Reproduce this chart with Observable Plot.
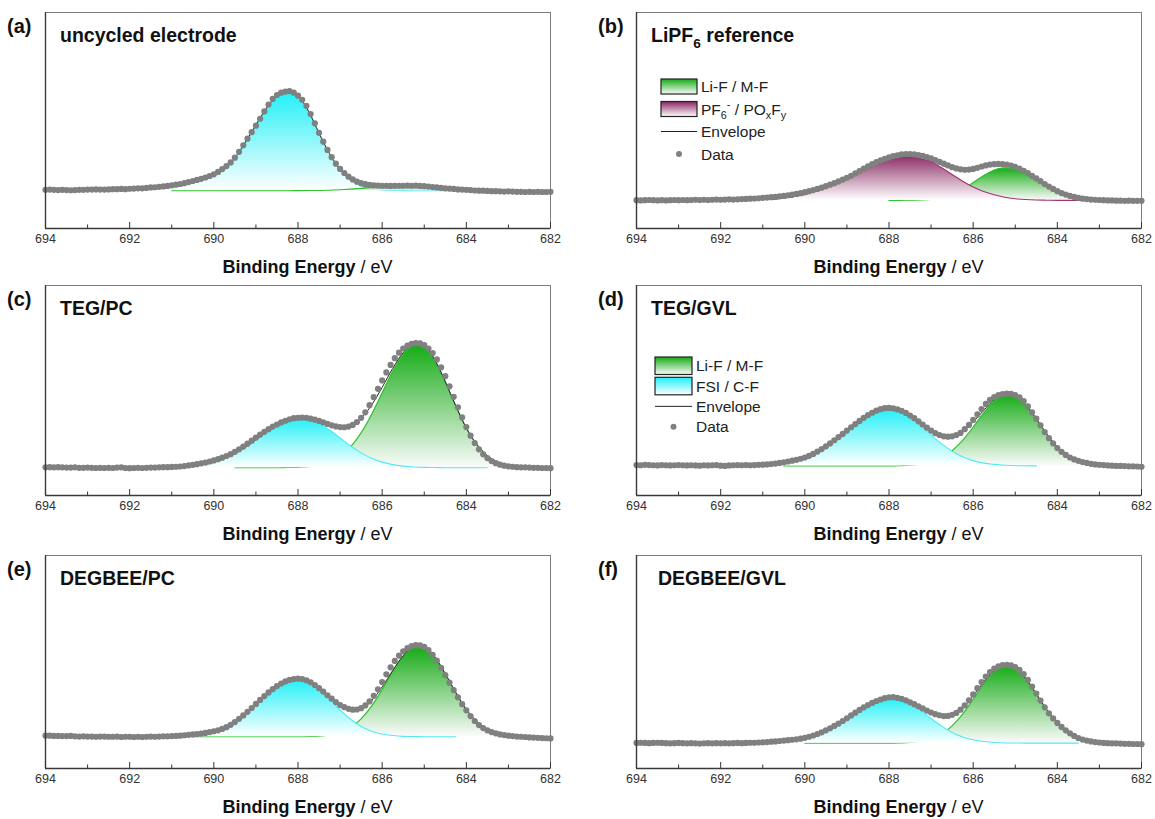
<!DOCTYPE html>
<html><head><meta charset="utf-8">
<script src="https://cdn.jsdelivr.net/npm/d3@7"></script>
<script src="https://cdn.jsdelivr.net/npm/@observablehq/plot@0.6"></script>
<style>
body{margin:0;background:#fff;}
#chart{position:relative;width:1155px;height:819px;overflow:hidden;font-family:"Liberation Sans",Arial,sans-serif;}
#chart svg{position:absolute;}
</style></head><body><div id="chart"></div>
<script>
// ---------- data ----------
// measurement grid: 694.0 -> 682.0 eV, 0.1 eV step
const energy = d3.range(121).map(i => Math.round((694 - i * 0.1) * 10) / 10);
// grid of the fitted components (eV)
const compEnergy = [691,690.75,690.5,690.25,690,689.75,689.5,689.25,689,688.75,688.5,688.25,688,687.75,687.5,687.25,687,686.75,686.5,686.25,686,685.75,685.5,685.25,685,684.75,684.5,684.25,684,683.75,683.5,683.25,683];

const tickValues = [694,692,690,688,686,684,682];
const minorTickValues = [693,691,689,687,685,683];

const panelLabels = ["(a)","(b)","(c)","(d)","(e)","(f)"];
const panelTitles = ["uncycled electrode","LiPF_{6} reference","TEG/PC","TEG/GVL","DEGBEE/PC","DEGBEE/GVL"];
const legendLabelsB = ["Li-F / M-F","PF_{6}^{-} / PO_{x}F_{y}","Envelope","Data"];
const legendLabelsD = ["Li-F / M-F","FSI / C-F","Envelope","Data"];

// background (baseline) intensity per panel (a.u.)
const baselines = [17.5, 13.0, 13.2, 14.1, 14.9, 11.9];

// measured intensity (a.u.)
const dataA = [17.9,18.0,17.9,17.8,17.9,17.8,17.7,17.8,17.9,17.9,
18.0,18.0,18.1,18.0,18.0,18.1,18.2,18.2,18.3,18.2,
18.4,18.5,18.6,18.6,18.8,19.0,19.1,19.3,19.5,19.7,
20.0,20.3,20.6,21.0,21.5,22.0,22.5,23.0,23.6,24.3,
25.1,26.2,27.5,28.9,30.6,32.8,35.5,38.5,41.6,44.6,
47.6,50.8,54.2,57.4,60.0,61.8,62.9,63.4,63.6,62.9,
61.5,59.6,56.8,53.0,48.7,44.3,40.2,36.4,33.0,30.0,
27.6,25.7,24.0,22.7,21.7,21.0,20.5,20.2,20.0,19.9,
19.8,19.8,19.7,19.8,19.8,19.8,19.9,19.8,19.9,19.7,
19.6,19.4,19.2,19.0,18.8,18.6,18.5,18.3,18.1,18.0,
17.9,17.8,17.6,17.5,17.5,17.4,17.3,17.3,17.2,17.1,
17.2,17.1,17.0,17.0,16.9,17.0,16.9,17.0,16.9,16.9,
17.0];
const dataB = [13.1,13.0,13.1,13.2,13.1,13.0,13.1,13.0,13.1,13.2,
13.1,13.2,13.1,13.2,13.3,13.2,13.3,13.2,13.3,13.4,
13.3,13.4,13.5,13.4,13.5,13.6,13.7,13.8,13.9,14.0,
14.2,14.3,14.5,14.6,14.9,15.1,15.4,15.7,16.0,16.4,
16.8,17.3,17.8,18.3,18.9,19.6,20.3,21.0,21.8,22.6,
23.5,24.4,25.5,26.6,27.7,28.8,29.8,30.7,31.6,32.3,
32.9,33.5,33.9,34.3,34.5,34.5,34.3,34.0,33.6,33.1,
32.5,31.7,30.9,30.0,29.2,28.4,27.8,27.4,27.2,27.3,
27.6,28.1,28.7,29.2,29.6,29.8,29.9,29.8,29.6,29.1,
28.5,27.7,26.7,25.6,24.4,23.2,21.9,20.6,19.4,18.3,
17.3,16.4,15.7,15.1,14.6,14.2,13.8,13.6,13.4,13.3,
13.2,13.1,13.0,13.0,12.9,12.9,12.8,12.9,12.8,12.8,
12.8];
const dataC = [13.4,13.5,13.4,13.5,13.4,13.3,13.3,13.4,13.2,13.2,
13.3,13.2,13.1,13.2,13.1,13.2,13.1,13.3,13.4,13.1,
13.0,13.1,13.2,13.1,13.2,13.3,13.3,13.4,13.5,13.5,
13.6,13.7,13.8,14.0,14.3,14.6,14.9,15.3,15.7,16.2,
16.7,17.3,18.0,18.8,19.7,20.8,22.0,23.3,24.7,26.1,
27.6,29.0,30.3,31.6,32.8,33.8,34.8,35.6,36.3,36.8,
37.0,37.1,37.0,36.6,36.1,35.5,34.8,34.1,33.4,32.9,
32.6,32.5,32.8,33.6,35.0,37.0,39.6,43.0,46.8,50.8,
54.8,58.6,62.2,65.4,68.0,70.0,71.4,72.2,72.6,72.4,
71.6,70.0,67.8,64.8,61.0,56.8,52.0,47.0,42.0,37.2,
32.6,28.5,25.0,22.0,19.6,17.8,16.4,15.4,14.7,14.2,
13.9,13.7,13.5,13.4,13.4,13.3,13.2,13.2,13.1,13.1,
13.0];
const dataD = [14.5,14.4,14.6,14.5,14.4,14.3,14.5,14.4,14.3,14.4,
14.5,14.4,14.3,14.4,14.3,14.2,14.4,14.3,14.4,14.5,
14.2,14.1,14.3,14.4,14.5,14.4,14.5,14.4,14.5,14.6,
14.7,14.8,15.0,15.2,15.5,15.8,16.2,16.6,17.0,17.5,
18.1,18.9,19.8,20.9,22.1,23.4,24.8,26.3,27.8,29.3,
30.9,32.5,34.0,35.5,37.0,38.3,39.4,40.4,41.1,41.6,
41.7,41.5,41.0,40.3,39.3,38.1,36.8,35.3,33.8,32.3,
30.9,29.7,28.8,28.2,28.0,28.2,28.8,29.8,31.6,33.6,
36.0,38.6,41.2,43.6,45.5,46.9,47.8,48.3,48.5,48.4,
47.8,46.7,44.9,42.4,39.6,36.6,33.4,30.2,27.3,24.8,
22.6,20.8,19.3,18.1,17.2,16.5,15.9,15.5,15.1,14.8,
14.6,14.5,14.3,14.2,14.1,14.1,14.0,13.9,13.9,13.8,
13.7];
const dataE = [15.4,15.4,15.3,15.3,15.2,15.2,15.3,15.1,15.0,15.1,
15.0,15.0,14.9,15.0,15.0,14.9,14.9,15.0,14.8,14.9,
14.9,14.8,14.9,14.8,14.9,15.0,14.9,15.0,15.1,15.1,
15.2,15.3,15.4,15.6,15.8,16.0,16.2,16.4,16.7,17.1,
17.5,17.9,18.6,19.4,20.5,21.8,23.3,24.9,26.6,28.4,
30.3,32.2,34.0,35.7,37.3,38.7,39.9,40.9,41.6,42.0,
42.2,42.0,41.4,40.5,39.2,37.7,36.1,34.4,32.8,31.2,
29.8,28.8,28.0,27.6,27.7,28.3,29.6,31.5,34.1,37.2,
40.6,44.2,47.5,50.5,53.0,55.0,56.5,57.5,57.9,57.8,
57.1,55.6,53.4,50.6,47.3,43.8,40.3,36.8,33.4,30.2,
27.3,24.6,22.3,20.4,19.0,17.9,17.1,16.5,16.0,15.7,
15.4,15.2,15.0,14.9,14.8,14.6,14.5,14.4,14.3,14.2,
14.1];
const dataF = [12.0,12.1,12.0,11.9,12.0,12.1,12.0,11.9,11.8,11.9,
12.0,11.9,11.8,11.9,11.8,11.7,11.8,11.9,11.8,11.9,
11.8,11.9,11.8,11.9,12.0,11.9,12.0,12.1,12.1,12.2,
12.3,12.4,12.6,12.7,12.9,13.1,13.3,13.5,13.7,14.0,
14.4,14.9,15.5,16.2,17.0,17.9,18.9,20.0,21.1,22.3,
23.6,24.9,26.2,27.5,28.7,29.8,30.8,31.7,32.4,33.0,
33.4,33.5,33.2,32.7,32.0,31.1,30.2,29.2,28.2,27.2,
26.3,25.5,25.0,24.6,24.7,25.2,26.1,27.6,29.6,32.0,
34.8,37.7,40.6,43.2,45.3,46.9,48.0,48.6,48.7,48.4,
47.6,46.3,44.3,41.6,38.5,35.2,31.9,28.7,25.9,23.5,
21.4,19.5,17.9,16.5,15.3,14.3,13.6,13.1,12.7,12.4,
12.2,12.0,11.9,11.8,11.8,11.7,11.6,11.6,11.5,11.5,
11.4];

// fitted components above the baseline (a.u.), on compEnergy (null = not drawn)
const fsiA = [2.4,3.2,4.4,5.7,7.5,10.6,15.2,22.5,30.4,38.2,44.0,46.0,43.9,36.8,26.5,16.9,9.5,4.9,2.2,1.0,0.3,0.1,0.05,0,0,0,0,0,0,null,null,null,null];
const lifA = [0,0,0,0,0,0,0,0,0,0,0,0,0.03,0.06,0.12,0.24,0.43,0.71,1.07,1.48,1.87,2.16,2.3,2.24,2.0,1.64,1.23,0.85,0.54,0.31,0.17,0.08,0.04];
const pf6B = [0.4,0.6,1.1,1.8,2.8,4.2,6.0,8.2,10.7,13.4,16.1,18.4,20.2,21.2,21.3,20.2,18.0,15.1,12.0,8.9,6.2,4.1,2.6,1.5,0.8,0.4,0.2,0.1,0,0,0,0,0];
const lifB = [null,null,null,null,null,null,null,null,null,null,null,null,0,0,0.1,0.2,0.5,1.3,2.8,5.1,8.2,11.4,14.0,15.0,14.3,12.5,9.9,7.2,4.7,2.9,1.6,0.8,0.4];
const fsiC = [0.2,0.4,0.8,1.5,2.6,4.4,6.8,9.8,13.4,17.0,20.3,22.7,23.8,23.3,21.2,18.0,14.2,10.4,7.1,4.5,2.7,1.5,0.8,0.4,0.2,0.1,0,0,0,0,0,null,null];
const lifC = [null,null,null,null,null,null,0,0,0,0,0,0.1,0.2,0.5,1.3,2.8,5.5,10.0,16.6,25.4,35.6,45.8,54.0,58.4,57.7,51.3,41.0,29.4,18.9,11.0,5.7,2.7,1.1];
const fsiD = [0.3,0.6,1.2,2.2,3.8,6.1,9.2,13.0,17.2,21.3,24.8,27.0,27.6,26.2,23.2,19.1,14.7,10.5,7.0,4.3,2.5,1.3,0.7,0.3,0.1,0.1,0,null,null,null,null,null,null];
const lifD = [null,null,0,0,0,0,0,0,0,0,0,0,0,0.1,0.3,0.8,1.8,3.8,7.2,12.1,18.4,25.1,30.8,33.9,33.4,29.1,22.4,15.1,9.0,4.8,2.2,0.9,0.3];
const fsiE = [0.1,0.3,0.6,1.3,2.4,4.3,7.0,10.6,14.8,19.3,23.4,26.2,27.2,25.9,22.4,17.7,12.6,8.2,4.8,2.6,1.3,0.6,0.2,0.1,0,0,0,0,null,null,null,null,null];
const lifE = [null,null,0,0,0,0,0,0,0,0,0,0,0,0.1,0.3,0.9,2.1,4.4,8.4,14.4,22.1,30.5,37.8,42.2,42.2,37.5,29.6,20.7,12.8,7.1,3.5,1.5,0.6];
const fsiF = [0.1,0.2,0.5,1.0,2.0,3.4,5.5,8.2,11.5,15.0,18.2,20.5,21.6,21.0,18.8,15.4,11.6,8.0,5.0,2.9,1.6,0.8,0.3,0.1,0.1,0,0,0,0,0,0,null,null];
const lifF = [null,null,null,null,0,0,0,0,0,0,0,0,0,0.1,0.3,0.9,2.0,4.3,8.1,13.6,20.6,27.9,33.8,36.5,35.2,30.3,23.1,15.7,9.5,5.1,2.4,1.0,0.4];

// ---------- styles & layout ----------
const compStyles = {
  lif: {top: "#15ab15", bottom: "#fbfbfb", line: "#2fc22f"},
  fsi: {top: "#1ff0f7", bottom: "#ffffff", line: "#52e8f3"},
  pf6: {top: "#872560", bottom: "#ffffff", line: "#a2346f"}
};
const cols = [
  {svgLeft: 0, frameLeft: 45, frameRight: 550, width: 575},
  {svgLeft: 590, frameLeft: 636, frameRight: 1141, width: 565}
];
const rows = [
  {svgTop: 0, frameTop: 12, frameBottom: 228},
  {svgTop: 275, frameTop: 285, frameBottom: 495},
  {svgTop: 545, frameTop: 555, frameBottom: 768}
];
const marginBottom = 46;
const FONT = "'Liberation Sans', Arial, Helvetica, sans-serif";

const panels = [
  {key: "a", col: 0, row: 0, data: dataA, comps: [["fsi", fsiA], ["lif", lifA]], titleDx: 15},
  {key: "b", col: 1, row: 0, data: dataB, comps: [["lif", lifB], ["pf6", pf6B]], titleDx: 15,
    legend: {x: 661, y: 79, boxW: 36, boxH: 15, pitch: 22.5, items: ["lif", "pf6", "line", "dot"], labels: legendLabelsB}},
  {key: "c", col: 0, row: 1, data: dataC, comps: [["lif", lifC], ["fsi", fsiC]], titleDx: 15},
  {key: "d", col: 1, row: 1, data: dataD, comps: [["lif", lifD], ["fsi", fsiD]], titleDx: 15,
    legend: {x: 655, y: 357, boxW: 37, boxH: 17.5, pitch: 20.3, items: ["lif", "fsi", "line", "dot"], labels: legendLabelsD}},
  {key: "e", col: 0, row: 2, data: dataE, comps: [["lif", lifE], ["fsi", fsiE]], titleDx: 15},
  {key: "f", col: 1, row: 2, data: dataF, comps: [["lif", lifF], ["fsi", fsiF]], titleDx: 22}
];

// rich text: _{sub} and ^{sup}
function richText(textSel, str, fs) {
  const parts = str.split(/(_\{[^}]*\}|\^\{[^}]*\})/).filter(s => s.length);
  let cur = 0;
  parts.forEach(p => {
    let target = 0, txt = p, size = fs;
    if (p.startsWith("_{")) { target = 0.3 * fs; txt = p.slice(2, -1); size = fs * 0.7; }
    else if (p.startsWith("^{")) { target = -0.42 * fs; txt = p.slice(2, -1); size = fs * 0.7; }
    textSel.append("tspan").attr("dy", target - cur).attr("font-size", size).text(txt);
    cur = target;
  });
}

const chart = document.getElementById("chart");

panels.forEach((p, pi) => {
  const col = cols[p.col], row = rows[p.row];
  const base = baselines[pi];
  const innerH = row.frameBottom - row.frameTop;
  const height = row.frameBottom - row.svgTop + marginBottom;
  const dataRows = energy.map((e, i) => ({e, v: p.data[i]}));
  const envRows = compEnergy.map((e, i) => ({e, v: base + p.comps.reduce((s, c) => s + (c[1][i] ?? 0), 0)}));

  const compMarks = [];
  p.comps.forEach(([name, vals]) => {
    const rowsC = compEnergy.map((e, i) => ({e, v: vals[i]})).filter(d => d.v != null);
    const gid = `grad-${p.key}-${name}`;
    compMarks.push(Plot.area(rowsC, {x1: "e", y1: () => base, y2: d => base + d.v, fill: `url(#${gid})`, curve: "monotone-x"}));
    compMarks.push(Plot.line(rowsC, {x: "e", y: d => base + d.v, stroke: compStyles[name].line, strokeWidth: 1.1, curve: "monotone-x"}));
  });

  const svgNode = Plot.plot({
    width: col.width,
    height,
    marginLeft: col.frameLeft - col.svgLeft,
    marginRight: col.svgLeft + col.width - col.frameRight,
    marginTop: row.frameTop - row.svgTop,
    marginBottom,
    style: {background: "transparent", overflow: "visible", fontFamily: FONT, fontSize: "12.5px", color: "#333"},
    x: {domain: [694, 682], ticks: tickValues, tickSize: 0, tickPadding: 6, label: null, tickFormat: d => String(d)},
    y: {domain: [0, 100], axis: null},
    marks: [
      ...compMarks,
      Plot.line(envRows, {x: "e", y: "v", stroke: "#262626", strokeWidth: 1, curve: "monotone-x"}),
      Plot.dot(dataRows, {x: "e", y: "v", r: 3.1, fill: "#808080"}),
      Plot.frame({stroke: "#7c7c7c", strokeWidth: 1}),
      Plot.ruleY([0], {stroke: "#3a3a3a", strokeWidth: 1.4}),
      Plot.ruleX([694], {stroke: "#3a3a3a", strokeWidth: 1.4}),
      Plot.tickX(tickValues, {x: d => d, insetTop: innerH - 6, stroke: "#333", strokeWidth: 1}),
      Plot.tickX(minorTickValues, {x: d => d, insetTop: innerH - 3.5, stroke: "#333", strokeWidth: 1})
    ]
  });
  svgNode.style.left = col.svgLeft + "px";
  svgNode.style.top = row.svgTop + "px";
  chart.appendChild(svgNode);

  const svg = d3.select(svgNode);
  const defs = svg.insert("defs", ":first-child");
  Object.entries(compStyles).forEach(([name, st]) => {
    const g = defs.append("linearGradient").attr("id", `grad-${p.key}-${name}`)
      .attr("x1", 0).attr("y1", 0).attr("x2", 0).attr("y2", 1);
    g.append("stop").attr("offset", "0%").attr("stop-color", st.top);
    g.append("stop").attr("offset", "100%").attr("stop-color", st.bottom);
  });

  const ox = col.svgLeft, oy = row.svgTop;
  const ann = svg.append("g").attr("font-family", FONT).attr("text-anchor", "start");
  // panel label
  ann.append("text").attr("x", col.frameLeft - 38 - ox).attr("y", row.frameTop + 21 - oy)
    .attr("font-size", 20).attr("font-weight", "bold").attr("fill", "#111").text(panelLabels[pi]);
  // title
  const tt = ann.append("text").attr("x", col.frameLeft + p.titleDx - ox).attr("y", row.frameTop + 30 - oy)
    .attr("font-size", 19.5).attr("font-weight", "bold").attr("fill", "#111");
  richText(tt, panelTitles[pi], 19.5);
  // x axis title
  const xt = ann.append("text").attr("x", (col.frameLeft + col.frameRight) / 2 + 10 - ox)
    .attr("y", row.frameBottom + 45 - oy).attr("text-anchor", "middle").attr("font-size", 18).attr("fill", "#111");
  xt.append("tspan").attr("font-weight", "bold").text("Binding Energy");
  xt.append("tspan").text(" / eV");

  // legend
  if (p.legend) {
    const L = p.legend;
    L.items.forEach((it, i) => {
      const y0 = L.y + i * L.pitch - oy, cy = y0 + L.boxH / 2, x0 = L.x - ox;
      if (compStyles[it]) {
        ann.append("rect").attr("x", x0).attr("y", y0).attr("width", L.boxW).attr("height", L.boxH)
          .attr("fill", `url(#grad-${p.key}-${it})`).attr("stroke", "#222").attr("stroke-width", 1.2);
      } else if (it === "line") {
        ann.append("line").attr("x1", x0).attr("x2", x0 + L.boxW).attr("y1", cy).attr("y2", cy)
          .attr("stroke", "#222").attr("stroke-width", 1);
      } else {
        ann.append("circle").attr("cx", x0 + L.boxW / 2).attr("cy", cy).attr("r", 3).attr("fill", "#808080");
      }
      const t = ann.append("text").attr("x", x0 + L.boxW + 4).attr("y", cy + 5.5).attr("font-size", 15.5).attr("fill", "#222");
      richText(t, L.labels[i], 15.5);
    });
  }
});
</script>
</body></html>
